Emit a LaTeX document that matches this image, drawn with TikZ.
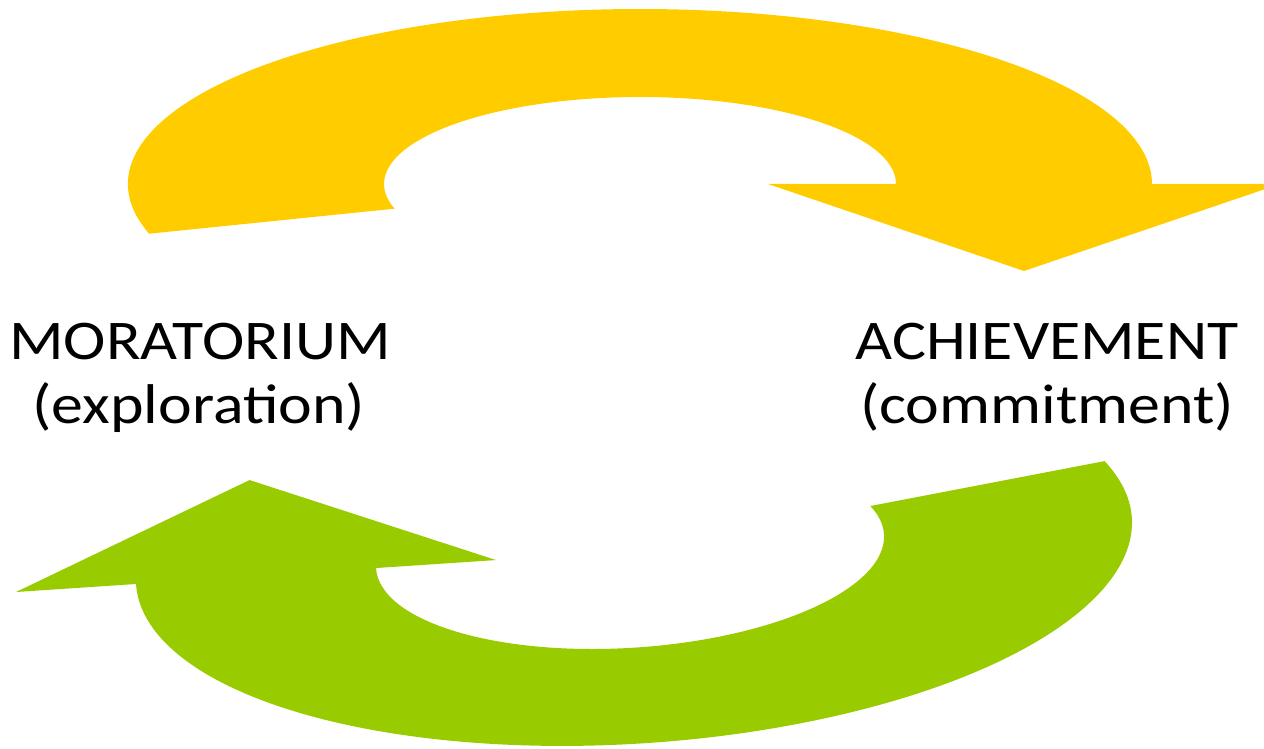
\documentclass[tikz,border=0pt]{standalone}
\usepackage{fontspec}
\setmainfont{Carlito}
\definecolor{ylw}{RGB}{255,204,0}
\definecolor{grn}{RGB}{153,204,0}
\begin{document}
\begin{tikzpicture}[x=1pt,y=1pt,
  lbl/.style={inner sep=0pt, anchor=base, font=\fontsize{56}{66}\selectfont}]
\clip (0,0) rectangle (1264,748);
% yellow curved arrow (top)
\fill[ylw] (149.1,514.3) arc[start angle=196.5, end angle=0, x radius=512, y radius=175]
  -- (1280,564) -- (1024,477) -- (768,564) -- (896,564)
  arc[start angle=0, end angle=196.5, x radius=256, y radius=87] -- cycle;
% green curved arrow (bottom)
\begin{scope}[shift={(632,197)}, rotate=3.81]
\fill[grn] (477.5,58.3) arc[start angle=17.6, end angle=-180, x radius=499, y radius=192.7]
  -- (-617.4,0) -- (-376.9,96.2) -- (-136.3,0) -- (-256.6,0)
  arc[start angle=180, end angle=377.5, x radius=254.6, y radius=96.6] -- cycle;
\end{scope}
\node[lbl] (morA) at (200,388) {\scalebox{1.14}[1]{MORATORIUM}};
\node[lbl] (morB) at (199,324) {\scalebox{1.14}[1]{(exploration)}};
\node[lbl] (achA) at (1047,388) {\scalebox{1.14}[1]{ACHIEVEMENT}};
\node[lbl] (achB) at (1047,324) {\scalebox{1.14}[1]{(commitment)}};
\end{tikzpicture}
\end{document}
